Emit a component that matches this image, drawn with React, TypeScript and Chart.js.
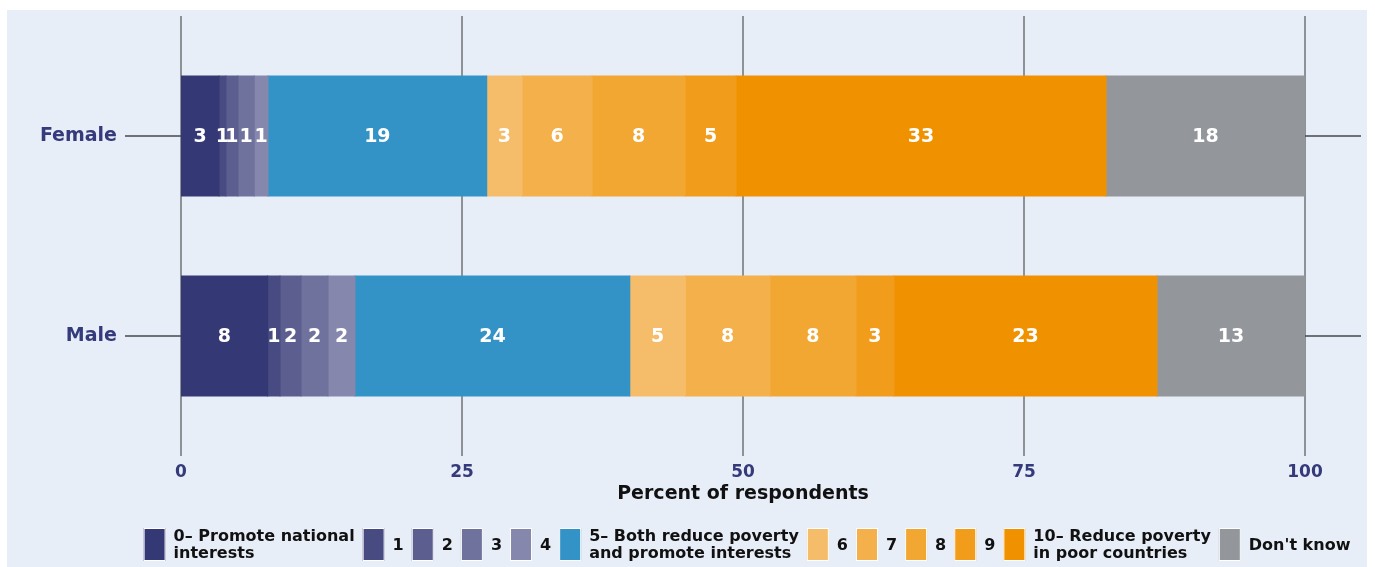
import React, { useEffect, useRef } from "react";
import { Chart, registerables } from "chart.js";

Chart.register(...registerables);

const FONT = "'DejaVu Sans', 'Noto Sans', sans-serif";
const NAVY = "#343a7a";

// Respondent groups (y categories)
const categories = ["Female", "Male"];

// Answer scale: legend text, one entry per line
const seriesLines: string[][] = [
  ["0– Promote national", "interests"],
  ["1"],
  ["2"],
  ["3"],
  ["4"],
  ["5– Both reduce poverty", "and promote interests"],
  ["6"],
  ["7"],
  ["8"],
  ["9"],
  ["10– Reduce poverty", "in poor countries"],
  ["Don't know"],
];

const seriesColors = [
  "#343874",
  "#474b82",
  "#5b5e8f",
  "#70729e",
  "#8587ac",
  "#3393c6",
  "#f5bd69",
  "#f4b04b",
  "#f3a733",
  "#f29c1c",
  "#f09200",
  "#93979b",
];

// Percent of respondents per answer, in the same order as seriesLines
const femaleValues = [3.38, 0.62, 1.07, 1.45, 1.22, 19.46, 3.14, 6.23, 8.27, 4.54, 32.92, 17.7];
const maleValues = [7.71, 1.1, 1.87, 2.4, 2.4, 24.45, 4.95, 7.52, 7.65, 3.38, 23.4, 13.17];

const xTickValues = [0, 25, 50, 75, 100];
const xTitle = "Percent of respondents";

const panelPlugin = {
  id: "panel",
  beforeDraw(chart: any) {
    const { ctx, width, height } = chart;
    ctx.save();
    ctx.fillStyle = "#ffffff";
    ctx.fillRect(0, 0, width, height);
    ctx.fillStyle = "#e8eef8";
    ctx.fillRect(7, 10, 1360, height - 10);
    ctx.restore();
  },
};

const gridPlugin = {
  id: "extendedGrid",
  beforeDatasetsDraw(chart: any) {
    const { ctx, chartArea, scales } = chart;
    ctx.save();
    ctx.lineWidth = 1.5;
    ctx.strokeStyle = "#6f7377";
    for (const v of xTickValues) {
      const x = scales.x.getPixelForValue(v);
      ctx.beginPath();
      ctx.moveTo(x, chartArea.top - 20);
      ctx.lineTo(x, chartArea.bottom + 20);
      ctx.stroke();
    }
    // category guide lines run out from both ends of each bar
    ctx.strokeStyle = "#45484b";
    categories.forEach((_, i) => {
      const y = scales.y.getPixelForValue(i);
      ctx.beginPath();
      ctx.moveTo(chartArea.left - 56, y);
      ctx.lineTo(chartArea.left, y);
      ctx.moveTo(chartArea.right, y);
      ctx.lineTo(chartArea.right + 56, y);
      ctx.stroke();
    });
    ctx.restore();
  },
};

const valueLabelPlugin = {
  id: "valueLabels",
  afterDatasetsDraw(chart: any) {
    const { ctx } = chart;
    ctx.save();
    ctx.fillStyle = "#ffffff";
    ctx.font = `bold 19px ${FONT}`;
    ctx.textAlign = "center";
    ctx.textBaseline = "middle";
    chart.data.datasets.forEach((ds: any, di: number) => {
      const meta = chart.getDatasetMeta(di);
      meta.data.forEach((bar: any, i: number) => {
        const v = ds.data[i];
        const cx = (bar.x + bar.base) / 2;
        ctx.fillText(String(Math.round(v)), cx, bar.y + 1);
      });
    });
    ctx.restore();
  },
};

const legendPlugin = {
  id: "legendRows",
  afterDraw(chart: any) {
    const { ctx } = chart;
    const boxW = 22;
    const boxH = 33;
    const boxGap = 8;
    const itemGap = 8;
    const top = 528;
    const centerX = 747;
    ctx.save();
    ctx.font = `bold 16px ${FONT}`;
    const items = seriesLines.map((lines, i) => {
      const tw = Math.max(...lines.map((l) => ctx.measureText(l).width));
      return { lines, color: seriesColors[i], w: boxW + boxGap + tw };
    });
    const total = items.reduce((s, it) => s + it.w, 0) + itemGap * (items.length - 1);
    let x = centerX - total / 2;
    ctx.textBaseline = "middle";
    ctx.textAlign = "left";
    for (const it of items) {
      ctx.fillStyle = it.color;
      ctx.fillRect(x, top, boxW, boxH);
      ctx.strokeStyle = "#ffffff";
      ctx.lineWidth = 1;
      ctx.strokeRect(x + 0.5, top + 0.5, boxW - 1, boxH - 1);
      ctx.fillStyle = "#111111";
      const tx = x + boxW + boxGap;
      if (it.lines.length === 1) {
        ctx.fillText(it.lines[0], tx, top + boxH / 2 + 1);
      } else {
        ctx.fillText(it.lines[0], tx, top + 9);
        ctx.fillText(it.lines[1], tx, top + 25.5);
      }
      x += it.w + itemGap;
    }
    ctx.restore();
  },
};

export default function App() {
  const canvasRef = useRef<HTMLCanvasElement | null>(null);

  useEffect(() => {
    if (!canvasRef.current) return;
    const datasets = seriesLines.map((lines, i) => ({
      label: lines.join(" "),
      data: [femaleValues[i], maleValues[i]],
      backgroundColor: seriesColors[i],
      borderWidth: 0,
      inflateAmount: 0.5,
      categoryPercentage: 0.6,
      barPercentage: 1,
    }));
    const chart = new Chart(canvasRef.current, {
      type: "bar",
      data: { labels: categories, datasets },
      options: {
        indexAxis: "y",
        animation: false,
        responsive: false,
        layout: { padding: { top: 36, right: 70, left: 0, bottom: 0 } },
        plugins: {
          legend: { display: false },
          tooltip: { enabled: false },
        },
        scales: {
          x: {
            stacked: true,
            min: 0,
            max: 100,
            grid: { display: false },
            border: { display: false },
            afterBuildTicks: (scale: any) => {
              scale.ticks = xTickValues.map((v) => ({ value: v }));
            },
            afterFit: (scale: any) => {
              // bottom band: tick labels, axis title and room for the legend
              scale.height = 131;
              scale.paddingLeft = 0;
              scale.paddingRight = 0;
            },
            ticks: {
              padding: 18,
              color: NAVY,
              font: { family: FONT, size: 17, weight: "bold" },
            },
            title: {
              display: true,
              text: xTitle,
              color: "#111111",
              font: { family: FONT, size: 19, weight: "bold" },
              padding: { top: 0, bottom: 62 },
            },
          },
          y: {
            stacked: true,
            grid: { display: false },
            border: { display: false },
            afterFit: (scale: any) => {
              // keep the label column a fixed width; labels sit clear of the bars
              scale.width = 181;
              scale.paddingTop = 0;
              scale.paddingBottom = 0;
            },
            ticks: {
              padding: 56,
              color: NAVY,
              font: { family: FONT, size: 19, weight: "bold" },
            },
          },
        },
      } as any,
      plugins: [panelPlugin, gridPlugin, valueLabelPlugin, legendPlugin],
    });
    return () => chart.destroy();
  }, []);

  return (
    <div style={{ position: "fixed", left: 0, top: 0, width: 1375, height: 567, background: "#ffffff" }}>
      <canvas ref={canvasRef} width={1375} height={567} style={{ display: "block", width: 1375, height: 567 }} />
    </div>
  );
}
